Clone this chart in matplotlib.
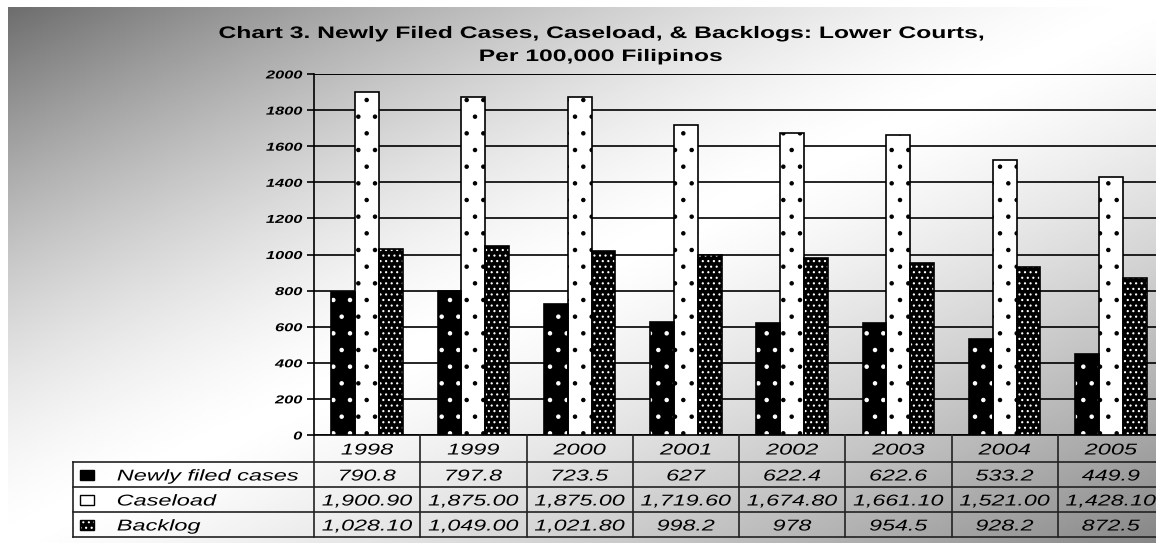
import numpy as np
import matplotlib
matplotlib.use("Agg")
import matplotlib.pyplot as plt
from matplotlib.patches import Rectangle
from matplotlib.patheffects import AbstractPathEffect
from matplotlib.transforms import Affine2D, blended_transform_factory

# ===== data =====
years = ["1998", "1999", "2000", "2001", "2002", "2003", "2004", "2005"]
newly_filed = [790.8, 797.8, 723.5, 627, 622.4, 622.6, 533.2, 449.9]
caseload = [1900.90, 1875.00, 1875.00, 1719.60, 1674.80, 1661.10, 1521.00, 1428.10]
backlog = [1028.10, 1049.00, 1021.80, 998.2, 978, 954.5, 928.2, 872.5]

newly_labels = ["790.8", "797.8", "723.5", "627", "622.4", "622.6", "533.2", "449.9"]
caseload_labels = ["1,900.90", "1,875.00", "1,875.00", "1,719.60", "1,674.80",
                   "1,661.10", "1,521.00", "1,428.10"]
backlog_labels = ["1,028.10", "1,049.00", "1,021.80", "998.2", "978",
                  "954.5", "928.2", "872.5"]
series_names = ["Newly filed cases", "Caseload", "Backlog"]
y_ticks = [0, 200, 400, 600, 800, 1000, 1200, 1400, 1600, 1800, 2000]

plt.rcParams["font.family"] = ["Liberation Sans", "DejaVu Sans"]
plt.rcParams["hatch.linewidth"] = 0.8


class HStretch(AbstractPathEffect):
    """widen glyphs horizontally (the original text is drawn wide)"""

    def __init__(self, sx=1.5, anchor="center"):
        super().__init__()
        self.sx = sx
        self.anchor = anchor

    def draw_path(self, renderer, gc, tpath, affine, rgbFace=None):
        ext = tpath.get_extents()
        x0 = {"left": ext.x0, "center": (ext.x0 + ext.x1) / 2,
              "right": ext.x1}[self.anchor]
        t = Affine2D().translate(-x0, 0).scale(self.sx, 1).translate(x0, 0) + affine
        renderer.draw_path(gc, tpath, t, rgbFace)


W, H = 1156, 543
fig = plt.figure(figsize=(W / 100, H / 100), dpi=100)
fig.patch.set_facecolor("white")

# ===== diagonal gray gradient background =====
bg = fig.add_axes([8 / W, 0, 1 - 8 / W, 1 - 7 / H], zorder=-10)
gx, gy = np.meshgrid(np.linspace(0, 1, 400), np.linspace(0, 1, 200))
t = (gx + gy) / 2
grad = np.where(t < 0.5,
                1 - 0.57 * (1 - t / 0.5) ** 1.5,
                1 - 0.47 * ((t - 0.5) / 0.5) ** 1.3)
bg.imshow(grad, cmap="gray", vmin=0, vmax=1, aspect="auto",
          extent=(0, 1, 1, 0), interpolation="bilinear")
bg.axis("off")

# ===== main axes =====
left_px, right_px, top_px, bot_px = 314, 1164, 74, 435
ax = fig.add_axes([left_px / W, (H - bot_px) / H,
                   (right_px - left_px) / W, (bot_px - top_px) / H])
ax.set_facecolor("none")

x = np.arange(len(years))
bw = 0.225


def hatched_bars(xs, vals, face, dots, hatch):
    ax.bar(xs, vals, bw, color=face, edgecolor=dots, hatch=hatch,
           linewidth=0, zorder=3)
    ax.bar(xs, vals, bw, fill=False, edgecolor="black", linewidth=1.2, zorder=4)


hatched_bars(x - bw, newly_filed, "black", "white", ".")
hatched_bars(x, caseload, "white", "black", ".")
hatched_bars(x + bw, backlog, "black", "white", "...")

ax.set_xlim(-0.5, len(years) - 0.5)
ax.set_ylim(0, 2000)
ax.set_yticks(y_ticks)
ax.set_yticklabels([str(v) for v in y_ticks], fontsize=8.3,
                   fontweight="bold", fontstyle="italic")
for lbl in ax.get_yticklabels():
    lbl.set_path_effects([HStretch(1.42, "right")])
ax.tick_params(axis="y", length=5, width=1.2, pad=3.5)
ax.set_xticks([])
ax.yaxis.grid(True, color="black", linewidth=1.2, zorder=1)
ax.set_axisbelow(True)
for s in ["top", "right", "bottom"]:
    ax.spines[s].set_visible(False)
ax.spines["left"].set_linewidth(1.2)
ax.axhline(2000, color="black", lw=1.2, zorder=1)

# ===== title =====
title_lines = ["Chart 3. Newly Filed Cases, Caseload, & Backlogs: Lower Courts,",
               "Per 100,000 Filipinos"]
for ln, base in zip(title_lines, [38, 61]):
    fig.text(600 / W, 1 - base / H, ln, ha="center", va="baseline",
             fontsize=12, fontweight="bold",
             path_effects=[HStretch(1.48, "center")])

# ===== data table =====
tr = blended_transform_factory(ax.transData, ax.transAxes)
span = bot_px - top_px
rows_y = [-p / span for p in [0, 27, 52, 77, 102]]
col_px = (right_px - left_px) / len(years)
label_x0 = (73 - left_px) / col_px - 0.5
line_kw = dict(color="#222222", lw=1.2, transform=tr, clip_on=False)

ax.plot([-0.5, 7.6], [0, 0], color="black", lw=1.2, transform=tr, clip_on=False)
for yy in rows_y[1:]:
    ax.plot([label_x0, 7.6], [yy, yy], **line_kw)
ax.plot([label_x0, label_x0], [rows_y[1], rows_y[4]], **line_kw)
for b in np.arange(-0.5, len(years) + 0.5, 1):
    ax.plot([b, b], [rows_y[0], rows_y[4]], **line_kw)

txt_kw = dict(fontsize=11.3, fontstyle="italic", transform=tr, va="center_baseline")
centres = [(rows_y[k] + rows_y[k + 1]) / 2 for k in range(4)]
for i, yr in enumerate(years):
    ax.text(i, centres[0], yr, ha="center",
            path_effects=[HStretch(1.5, "center")], **txt_kw)
for r, labels in enumerate([newly_labels, caseload_labels, backlog_labels]):
    yc = centres[r + 1]
    for i, lab in enumerate(labels):
        ax.text(i, yc, lab, ha="center",
                path_effects=[HStretch(1.48, "center")], **txt_kw)
    ax.text((117 - left_px) / col_px - 0.5, yc, series_names[r], ha="left",
            path_effects=[HStretch(1.5, "left")], **txt_kw)

# legend swatches in table
sw_w, sw_h = 14 / col_px, 10 / span
sw_x = (80 - left_px) / col_px - 0.5
swatches = [("black", "white", "."), ("white", "black", ""), ("black", "white", "...")]
for r, (face, dots, hatch) in enumerate(swatches):
    yc = centres[r + 1]
    ax.add_patch(Rectangle((sw_x, yc - sw_h / 2), sw_w, sw_h, facecolor=face,
                           edgecolor=dots, hatch=hatch, lw=0, transform=tr,
                           clip_on=False))
    ax.add_patch(Rectangle((sw_x, yc - sw_h / 2), sw_w, sw_h, fill=False,
                           edgecolor="black", lw=1, transform=tr, clip_on=False))

fig.savefig("out.png", dpi=100)
